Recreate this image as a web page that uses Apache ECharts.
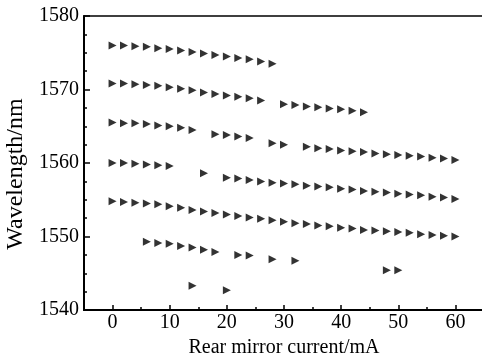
<!DOCTYPE html>
<html>
<head>
<meta charset="utf-8">
<script src="https://cdn.jsdelivr.net/npm/echarts@6/dist/echarts.min.js"></script>
<style>html,body{margin:0;padding:0;background:#fff;}#c{width:482px;height:356px;}</style>
</head>
<body>
<div id="c"></div>
<script>
const xTickLabels = [0, 10, 20, 30, 40, 50, 60];
const xMinorTicks = [5, 15, 25, 35, 45, 55];
const branch1 = [[0,1576.0],[2,1576.0],[4,1575.9],[6,1575.8],[8,1575.6],[10,1575.5],[12,1575.3],[14,1575.1],[16,1574.9],[18,1574.7],[20,1574.5],[22,1574.3],[24,1574.1],[26,1573.8],[28,1573.5]];
const branch2 = [[0,1570.8],[2,1570.8],[4,1570.7],[6,1570.6],[8,1570.5],[10,1570.3],[12,1570.1],[14,1569.9],[16,1569.6],[18,1569.4],[20,1569.2],[22,1569.0],[24,1568.8],[26,1568.5],
  [30,1568.0],[32,1567.9],[34,1567.7],[36,1567.6],[38,1567.4],[40,1567.3],[42,1567.1],[44,1566.9]];
const branch3 = [[0,1565.5],[2,1565.4],[4,1565.4],[6,1565.3],[8,1565.1],[10,1565.0],[12,1564.8],[14,1564.5],
  [18,1563.9],[20,1563.8],[22,1563.6],[24,1563.4],[28,1562.7],[30,1562.5],
  [34,1562.2],[36,1562.0],[38,1561.9],[40,1561.7],[42,1561.6],[44,1561.5],[46,1561.3],[48,1561.2],[50,1561.1],[52,1561.0],[54,1560.9],[56,1560.7],[58,1560.6],[60,1560.4]];
const branch4 = [[0,1560.0],[2,1560.0],[4,1559.9],[6,1559.8],[8,1559.7],[10,1559.6],[16,1558.6],
  [20,1558.0],[22,1557.9],[24,1557.7],[26,1557.5],[28,1557.3],[30,1557.2],[32,1557.1],[34,1556.9],[36,1556.8],[38,1556.7],[40,1556.5],[42,1556.4],[44,1556.2],[46,1556.1],[48,1556.0],[50,1555.8],[52,1555.7],[54,1555.6],[56,1555.4],[58,1555.3],[60,1555.1]];
const branch5 = [[0,1554.8],[2,1554.7],[4,1554.6],[6,1554.5],[8,1554.4],[10,1554.1],[12,1553.9],[14,1553.6],[16,1553.4],[18,1553.2],[20,1553.0],[22,1552.8],[24,1552.6],[26,1552.4],[28,1552.2],[30,1552.0],
  [32,1551.8],[34,1551.7],[36,1551.5],[38,1551.4],[40,1551.2],[42,1551.1],[44,1550.9],[46,1550.8],[48,1550.7],[50,1550.6],[52,1550.5],[54,1550.3],[56,1550.2],[58,1550.1],[60,1550.0]];
const branch6 = [[6,1549.3],[8,1549.1],[10,1549.0],[12,1548.7],[14,1548.5],[16,1548.2],[18,1547.9],[22,1547.5],[24,1547.4],[28,1546.9],[32,1546.7]];
const branch7 = [[14,1543.3],[20,1542.7],[48,1545.4],[50,1545.4]];
const branches = [branch1, branch2, branch3, branch4, branch5, branch6, branch7];

const font = 'Liberation Serif, Times New Roman, serif';
const chart = echarts.init(document.getElementById('c'), null, {renderer: 'canvas'});
chart.setOption({
  animation: false,
  backgroundColor: '#fff',
  grid: {left: 84, top: 16, right: -2, bottom: 46, containLabel: false, outerBoundsMode: 'none',
    show: true, borderColor: '#000', borderWidth: 1.5, backgroundColor: 'transparent'},
  xAxis: [{
    type: 'value', min: -5, max: 65, position: 'bottom',
    name: 'Rear mirror current/mA', nameLocation: 'middle', nameGap: 21,
    nameTextStyle: {fontFamily: font, fontSize: 20, color: '#000'},
    axisLine: {show: true, onZero: false, lineStyle: {color: '#000', width: 2}},
    axisTick: {show: true, inside: true, length: 5, customValues: xTickLabels, lineStyle: {color: '#000', width: 1.5}},
    axisLabel: {customValues: xTickLabels, fontFamily: font, fontSize: 20, color: '#000', margin: 3},
    splitLine: {show: false}
  }, {
    type: 'value', min: -5, max: 65, position: 'bottom', offset: 0,
    axisLine: {show: false, onZero: false},
    axisTick: {show: true, inside: true, length: 3, customValues: xMinorTicks, lineStyle: {color: '#000', width: 1.5}},
    axisLabel: {show: false},
    splitLine: {show: false}
  }],
  yAxis: {
    type: 'value', min: 1540, max: 1580, interval: 10,
    name: 'Wavelength/nm', nameLocation: 'middle', nameGap: 51,
    nameTextStyle: {fontFamily: font, fontSize: 24, color: '#000', padding: [0, 22, 0, 0]},
    axisLine: {show: true, onZero: false, lineStyle: {color: '#000', width: 2}},
    axisTick: {show: true, inside: true, length: 6, lineStyle: {color: '#000', width: 1.5}},
    minorTick: {show: true, splitNumber: 4, length: 3, lineStyle: {color: '#000', width: 1.5}},
    axisLabel: {fontFamily: font, fontSize: 20, color: '#000', margin: 5, formatter: v => String(v)},
    splitLine: {show: false}, minorSplitLine: {show: false}
  },
  series: branches.map(b => ({
    type: 'scatter', data: b, xAxisIndex: 0,
    symbol: 'triangle', symbolRotate: -90, symbolSize: [8, 8],
    itemStyle: {color: '#000'}
  }))
});
</script>
</body>
</html>
